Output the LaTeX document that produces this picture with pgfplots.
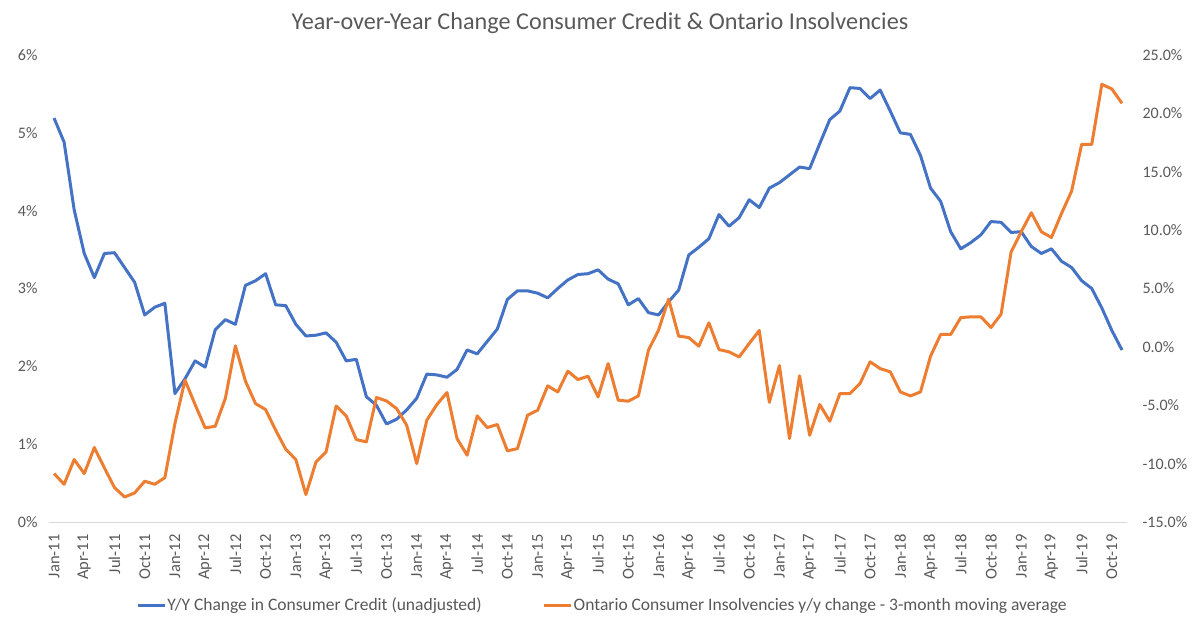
\documentclass[border=0pt]{standalone}
\usepackage{pgfplots}
\pgfplotsset{compat=1.18}
\usepackage{pgfplotstable}
\usepackage{fontspec}
\setmainfont{Carlito}
\definecolor{cblue}{HTML}{4472C4}
\definecolor{corange}{HTML}{ED7D31}
\definecolor{ctext}{HTML}{595959}
\definecolor{caxis}{HTML}{D9D9D9}
\pgfplotstableread{
i v
0 5.19
1 4.88
2 4.01
3 3.45
4 3.14
5 3.45
6 3.46
7 3.27
8 3.08
9 2.66
10 2.76
11 2.81
12 1.65
13 1.84
14 2.07
15 1.99
16 2.47
17 2.60
18 2.54
19 3.04
20 3.10
21 3.19
22 2.79
23 2.78
24 2.54
25 2.39
26 2.40
27 2.43
28 2.31
29 2.07
30 2.09
31 1.61
32 1.50
33 1.26
34 1.32
35 1.44
36 1.59
37 1.90
38 1.89
39 1.86
40 1.96
41 2.21
42 2.16
43 2.32
44 2.48
45 2.86
46 2.97
47 2.97
48 2.94
49 2.88
50 3.00
51 3.11
52 3.18
53 3.19
54 3.24
55 3.12
56 3.06
57 2.79
58 2.87
59 2.69
60 2.66
61 2.83
62 2.98
63 3.43
64 3.53
65 3.64
66 3.95
67 3.80
68 3.91
69 4.14
70 4.04
71 4.29
72 4.36
73 4.46
74 4.56
75 4.54
76 4.86
77 5.17
78 5.28
79 5.58
80 5.57
81 5.44
82 5.55
83 5.28
84 5.00
85 4.98
86 4.71
87 4.29
88 4.12
89 3.73
90 3.51
91 3.59
92 3.69
93 3.86
94 3.85
95 3.72
96 3.73
97 3.54
98 3.45
99 3.51
100 3.35
101 3.27
102 3.10
103 3.00
104 2.75
105 2.46
106 2.21
}\credit
\pgfplotstableread{
i v
0 -10.85
1 -11.77
2 -9.65
3 -10.85
4 -8.62
5 -10.37
6 -12.05
7 -12.86
8 -12.51
9 -11.51
10 -11.77
11 -11.20
12 -6.57
13 -2.85
14 -4.94
15 -6.94
16 -6.80
17 -4.43
18 0.09
19 -2.94
20 -4.86
21 -5.37
22 -7.14
23 -8.77
24 -9.65
25 -12.65
26 -9.86
27 -9.00
28 -5.06
29 -5.91
30 -7.94
31 -8.14
32 -4.34
33 -4.63
34 -5.28
35 -6.71
36 -10.00
37 -6.28
38 -4.94
39 -3.91
40 -7.85
41 -9.28
42 -5.91
43 -6.91
44 -6.65
45 -8.91
46 -8.71
47 -5.85
48 -5.43
49 -3.34
50 -3.86
51 -2.08
52 -2.80
53 -2.51
54 -4.28
55 -1.43
56 -4.57
57 -4.65
58 -4.20
59 -0.28
60 1.43
61 4.09
62 0.92
63 0.80
64 0.06
65 2.06
66 -0.23
67 -0.43
68 -0.86
69 0.29
70 1.40
71 -4.75
72 -1.60
73 -7.85
74 -2.48
75 -7.57
76 -4.94
77 -6.37
78 -4.00
79 -4.00
80 -3.14
81 -1.28
82 -1.86
83 -2.14
84 -3.86
85 -4.20
86 -3.86
87 -0.80
88 1.06
89 1.06
90 2.51
91 2.57
92 2.57
93 1.66
94 2.80
95 8.14
96 9.86
97 11.49
98 9.86
99 9.37
100 11.43
101 13.34
102 17.35
103 17.35
104 22.49
105 22.09
106 20.86
}\insolv
\begin{document}
\begin{tikzpicture}[x=1pt,y=1pt]
\path (0,0) rectangle (1200,627);
\node[text=ctext,font=\fontsize{24.2}{28}\selectfont] at (600,604) {Year-over-Year Change Consumer Credit \& Ontario Insolvencies};
\begin{axis}[
  at={(49pt,105pt)}, anchor=south west,
  scale only axis, width=1078pt, height=467pt,
  xmin=-0.5, xmax=106.5, ymin=0, ymax=6,
  axis x line*=bottom, axis y line*=left,
  x axis line style={draw=caxis, line width=1pt, -},
  y axis line style={draw=none},
  major tick length=0pt,
  xtick={0,3,...,105},
  xticklabels={Jan-11,Apr-11,Jul-11,Oct-11,Jan-12,Apr-12,Jul-12,Oct-12,Jan-13,Apr-13,Jul-13,Oct-13,Jan-14,Apr-14,Jul-14,Oct-14,Jan-15,Apr-15,Jul-15,Oct-15,Jan-16,Apr-16,Jul-16,Oct-16,Jan-17,Apr-17,Jul-17,Oct-17,Jan-18,Apr-18,Jul-18,Oct-18,Jan-19,Apr-19,Jul-19,Oct-19},
  x tick label style={rotate=90, anchor=east, font=\fontsize{16.5}{18}\selectfont, text=ctext},
  ytick={0,1,2,3,4,5,6},
  yticklabels={0\%,1\%,2\%,3\%,4\%,5\%,6\%},
  y tick label style={font=\fontsize{16}{18}\selectfont, text=ctext},
  yticklabel style={xshift=-8pt},
  xticklabel style={xshift=-9pt},
  legend columns=2,
  legend style={draw=none, at={(0.513,-0.178)}, anchor=center, font=\fontsize{17.5}{19}\selectfont, text=ctext, /tikz/every even column/.append style={column sep=60pt}, nodes={inner xsep=1pt}},
  legend image code/.code={\draw[#1] (0pt,0pt) -- (27pt,0pt);},
]
\addplot[cblue, line width=3pt, line join=round] table[x=i,y=v] {\credit};
\addlegendentry{Y/Y Change in Consumer Credit (unadjusted)}
\addlegendimage{corange, line width=3pt}
\addlegendentry{Ontario Consumer Insolvencies y/y change - 3-month moving average}
\end{axis}
\begin{axis}[
  at={(49pt,105pt)}, anchor=south west,
  scale only axis, width=1078pt, height=467pt,
  xmin=-0.5, xmax=106.5, ymin=-15, ymax=25,
  axis x line=none, axis y line*=right,
  y axis line style={draw=none},
  major tick length=0pt,
  ytick={-15,-10,-5,0,5,10,15,20,25},
  yticklabels={-15.0\%,-10.0\%,-5.0\%,0.0\%,5.0\%,10.0\%,15.0\%,20.0\%,25.0\%},
  y tick label style={font=\fontsize{16}{18}\selectfont, text=ctext, anchor=west},
  yticklabel style={xshift=12pt},
]
\addplot[corange, line width=3pt, line join=round] table[x=i,y=v] {\insolv};
\end{axis}
\end{tikzpicture}
\end{document}
